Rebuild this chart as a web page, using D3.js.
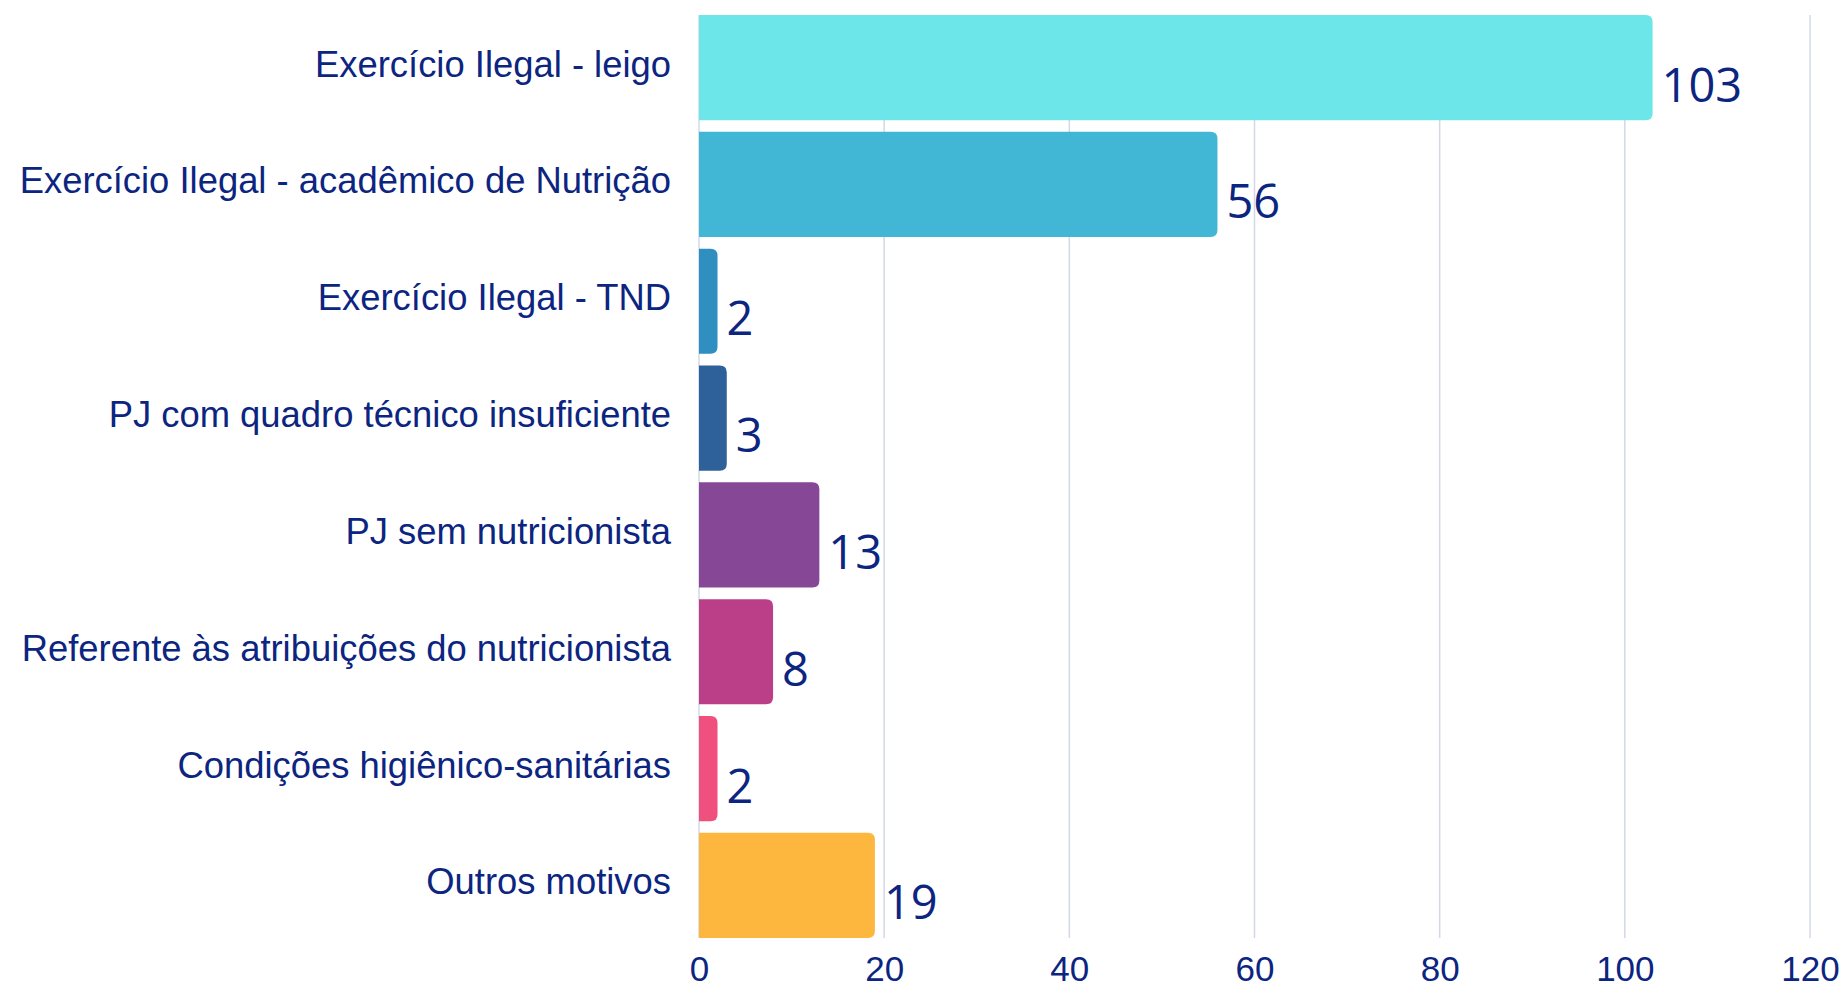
<!DOCTYPE html>
<html>
<meta charset="utf-8">
<title>Denúncias por motivo</title>
<style>
	body {
		margin: 0;
		background-color: #ffffff;
	}

	.cat.label {
		font: 400 36.4px "Liberation Sans", Arial, sans-serif;
		fill: #0c2580;
	}

	.value.label {
		font: 400 47px "Open Sans", "Lato", sans-serif;
		fill: #0c2580;
	}

	.x.axis text {
		font: 400 35px "Liberation Sans", Arial, sans-serif;
		fill: #0c2580;
	}
</style>

<body>
	<div id="chart"></div>
</body>

<script src="https://cdn.jsdelivr.net/npm/d3@7"></script>
<script>

	// Data
	var categories = [
		"Exercício Ilegal - leigo",
		"Exercício Ilegal - acadêmico de Nutrição",
		"Exercício Ilegal - TND",
		"PJ com quadro técnico insuficiente",
		"PJ sem nutricionista",
		"Referente às atribuições do nutricionista",
		"Condições higiênico-sanitárias",
		"Outros motivos"
	];
	var values = [103, 56, 2, 3, 13, 8, 2, 19];
	var barColors = ["#6ce6e9", "#42b7d5", "#2e8fc0", "#2e6199", "#874797", "#bb3f88", "#ef507e", "#fdb73e"];
	var xTicks = [0, 20, 40, 60, 80, 100, 120];

	// Chart dimensions.
	var fullWidth = 1847,
		fullHeight = 985;
	var margin = { top: 15, right: 37, bottom: 47, left: 699 },
		width = fullWidth - margin.left - margin.right,
		height = fullHeight - margin.top - margin.bottom;

	var svg = d3.select("#chart").append("svg")
		.attr("width", fullWidth)
		.attr("height", fullHeight)
		.append("g")
		.attr("transform", "translate(" + margin.left + "," + margin.top + ")");

	var xScale = d3.scaleLinear().domain([0, 120]).range([0, width]);
	var yScale = d3.scaleBand().domain(categories).range([0, height])
		.paddingInner(0.1).paddingOuter(0);

	// Vertical grid lines
	svg.append("g")
		.attr("class", "grid")
		.selectAll("line")
		.data(xTicks).enter().append("line")
		.attr("x1", function (d) { return xScale(d); })
		.attr("x2", function (d) { return xScale(d); })
		.attr("y1", 0)
		.attr("y2", height)
		.attr("stroke", "#d3d8e9")
		.attr("stroke-width", 1.5);

	// Bars, square on the left, rounded on the right
	var r = 7;
	var barPath = function (d, i) {
		var x0 = xScale(0), x1 = xScale(d),
			y0 = yScale(categories[i]), h = yScale.bandwidth();
		var rr = Math.min(r, (x1 - x0) / 2);
		return "M" + x0 + "," + y0 +
			"H" + (x1 - rr) +
			"Q" + x1 + "," + y0 + " " + x1 + "," + (y0 + rr) +
			"V" + (y0 + h - rr) +
			"Q" + x1 + "," + (y0 + h) + " " + (x1 - rr) + "," + (y0 + h) +
			"H" + x0 + "Z";
	};

	svg.append("g")
		.attr("class", "bars")
		.selectAll("path")
		.data(values).enter().append("path")
		.attr("d", barPath)
		.style("fill", function (d, i) { return barColors[i]; });

	// Value labels
	svg.append("g")
		.selectAll("text")
		.data(values).enter().append("text")
		.attr("class", "value label")
		.attr("x", function (d) { return xScale(d) + 9; })
		.attr("y", function (d, i) { return yScale(categories[i]) + yScale.bandwidth() / 2 + 34; })
		.text(function (d) { return d; });

	// Category labels
	svg.append("g")
		.selectAll("text")
		.data(categories).enter().append("text")
		.attr("class", "cat label")
		.attr("text-anchor", "end")
		.attr("x", -28)
		.attr("y", function (d) { return yScale(d) + yScale.bandwidth() / 2 + 9; })
		.text(function (d) { return d; });

	// X axis
	var xAxis = d3.axisBottom(xScale).tickValues(xTicks).tickSize(0).tickPadding(0);
	var gx = svg.append("g")
		.attr("class", "x axis")
		.attr("transform", "translate(0," + height + ")")
		.call(xAxis);
	gx.select(".domain").remove();
	gx.selectAll("text").attr("dy", null).attr("y", 43);

</script>
</html>
